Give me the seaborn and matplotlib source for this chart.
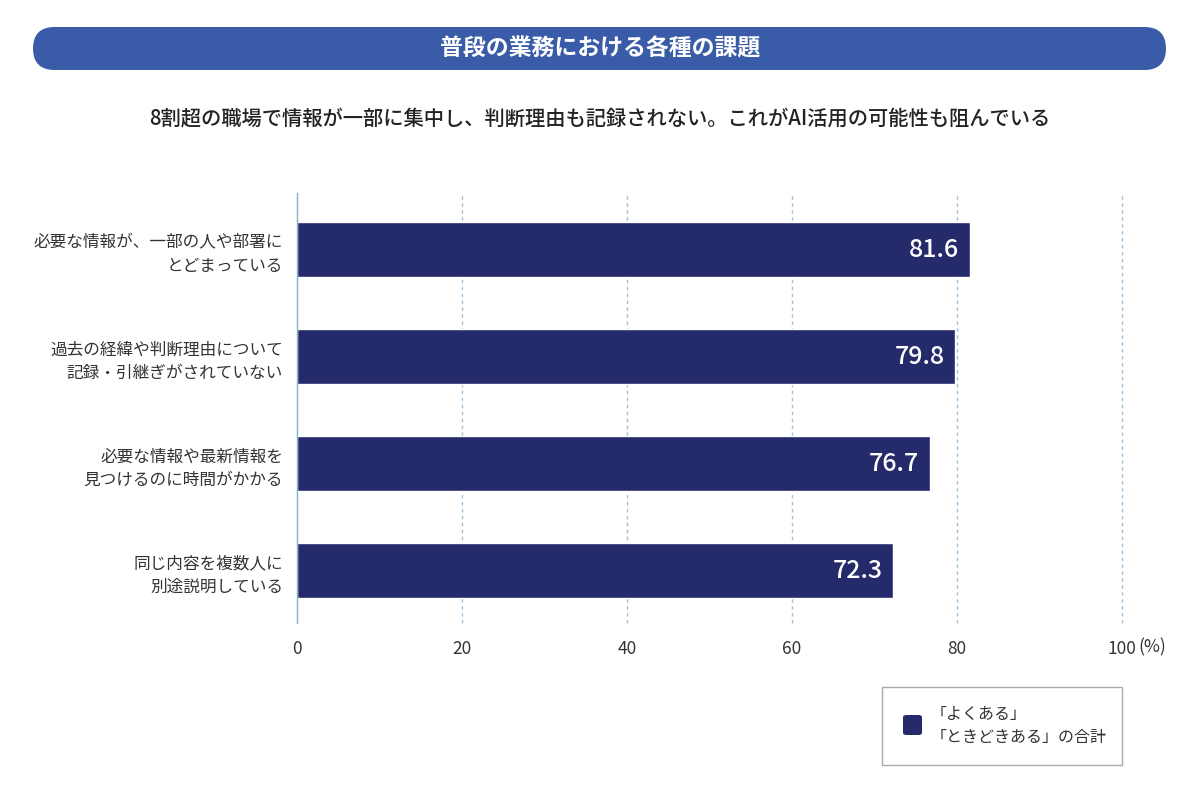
import pandas as pd
import seaborn as sns
import matplotlib.pyplot as plt
from matplotlib.patches import FancyBboxPatch, Rectangle

# data
items = [
    '必要な情報が、一部の人や部署に\nとどまっている',
    '過去の経緯や判断理由について\n記録・引継ぎがされていない',
    '必要な情報や最新情報を\n見つけるのに時間がかかる',
    '同じ内容を複数人に\n別途説明している',
]
values = [81.6, 79.8, 76.7, 72.3]
x_ticks = [0, 20, 40, 60, 80, 100]

title = '普段の業務における各種の課題'
subtitle = '8割超の職場で情報が一部に集中し、判断理由も記録されない。これがAI活用の可能性も阻んでいる'
legend_label = '「よくある」\n「ときどきある」の合計'

bar_color = '#252a6b'
header_color = '#3a5ca8'
text_color = '#333333'

df = pd.DataFrame({'item': items, 'value': values})

sns.set_theme(style='white')
plt.rcParams['font.family'] = ['Noto Sans CJK JP', 'DejaVu Sans']

fig = plt.figure(figsize=(12, 7.86), dpi=100)
ax = fig.add_axes([0.2475, 0.2074, 0.6875, 0.5471])

sns.barplot(data=df, x='value', y='item', orient='h', color=bar_color,
            width=0.514, saturation=1, ax=ax)

ax.set_xlim(0, 100)
ax.set_ylim(3.49, -0.53)
ax.set_xlabel('')
ax.set_ylabel('')

for s in ['top', 'right', 'bottom']:
    ax.spines[s].set_visible(False)
ax.spines['left'].set_color('#7fb3c8')
ax.spines['left'].set_linewidth(1.0)

for xv in x_ticks[1:]:
    ax.axvline(xv, color='#9cc2de', lw=1.0, ls=(0, (2.5, 2.5)), zorder=0,
               clip_on=False)

ax.set_xticks(x_ticks)
ax.set_xticklabels([str(v) for v in x_ticks], fontsize=12.5, color=text_color)
ax.tick_params(axis='x', length=0, pad=12)
ax.tick_params(axis='y', length=0, pad=10)
for lab in ax.get_yticklabels():
    lab.set_fontsize(12)
    lab.set_color(text_color)
    lab.set_linespacing(1.45)
    lab.set_horizontalalignment('right')

fig.text(1138 / 1200, 1 - 647 / 786, '(%)', fontsize=12.5, color=text_color,
         va='center', ha='left')

for i, v in enumerate(values):
    ax.text(v - 1.3, i, f'{v:.1f}', color='white', fontsize=18,
            fontweight='medium', ha='right', va='center')

# header band
header = FancyBboxPatch((33 / 1200, 1 - 70 / 786), 1133 / 1200, 43 / 786,
                        boxstyle='round,pad=0,rounding_size=0.018',
                        transform=fig.transFigure, facecolor=header_color,
                        edgecolor='none', mutation_aspect=1200 / 786)
fig.patches.append(header)
fig.text(0.5, 1 - 48.5 / 786, title, color='white', fontsize=16.5,
         fontweight='bold', ha='center', va='center')
fig.text(0.5, 1 - 118 / 786, subtitle, color='#222222', fontsize=14.6,
         fontweight='medium', ha='center', va='center')

# legend box
fig.patches.append(Rectangle((882 / 1200, 1 - 765 / 786), 240 / 1200, 78 / 786,
                             transform=fig.transFigure, facecolor='white',
                             edgecolor='#aaaaaa', lw=1))
fig.patches.append(FancyBboxPatch((903 / 1200, 1 - 735 / 786), 19 / 1200, 20 / 786,
                                  boxstyle='round,pad=0,rounding_size=0.003',
                                  transform=fig.transFigure, facecolor=bar_color,
                                  edgecolor='none'))
fig.text(931 / 1200, 1 - 726 / 786, legend_label, color=text_color, fontsize=11.5,
         ha='left', va='center', linespacing=1.45)

plt.savefig('out.png', dpi=100)
